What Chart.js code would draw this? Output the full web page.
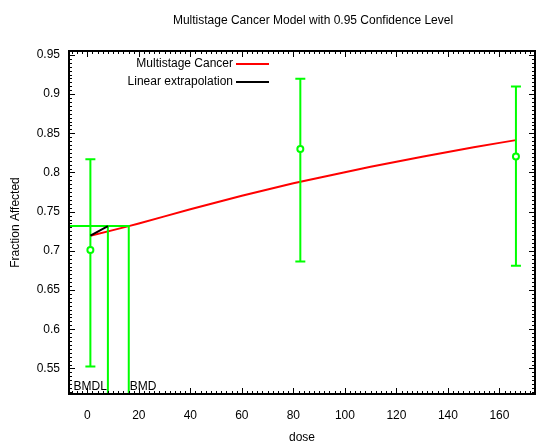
<!DOCTYPE html>
<html>
<head>
<meta charset="utf-8">
<script src="https://cdn.jsdelivr.net/npm/chart.js@4.4.0/dist/chart.umd.min.js"></script>
<style>
    html, body { margin: 0; padding: 0; background: #fff; }
    canvas { display: block; }
</style>
</head>
<body>
<canvas id="bmdChart" width="541" height="448"></canvas>
<script>
const FONT = '"Liberation Sans", Arial, sans-serif';
const TITLE = 'Multistage Cancer Model with 0.95 Confidence Level';

// observed dose groups with 95% limits
const doses = [1.2, 82.7, 166.4];
const fracAffected = [0.701, 0.830, 0.8204];
const ciLower = [0.5525, 0.6865, 0.681];
const ciUpper = [0.817, 0.9195, 0.9097];

// fitted multistage curve
const curveDose = [1.2, 10, 16.1, 20, 30, 40, 50, 60, 70, 80, 90, 100, 110, 120, 130, 140, 150, 160, 166.4];
const curveFrac = [0.7193, 0.7265, 0.7316, 0.7350, 0.7440, 0.7530, 0.7618, 0.7703, 0.7784, 0.7862,
                   0.7934, 0.8004, 0.8072, 0.8137, 0.8201, 0.8262, 0.8321, 0.8378, 0.8413];

// benchmark response / dose
const bmr = 0.7316;
const bmdl = 8.0;
const bmd = 16.1;

const xRange = [-7.1, 173.8];
const yRange = [0.5174, 0.955];
const xTicks = [0, 20, 40, 60, 80, 100, 120, 140, 160];
const yTicks = [0.55, 0.6, 0.65, 0.7, 0.75, 0.8, 0.85, 0.9, 0.95];

const GREEN = '#00ff00';

function pts(xs, ys) {
    return xs.map((x, i) => ({x: x, y: ys[i]}));
}

const errorBars = {
    id: 'errorBars',
    afterDatasetDraw(chart, args) {
        if (chart.data.datasets[args.index].label !== 'bmr') return;
        const {ctx, scales: {x, y}} = chart;
        ctx.save();
        ctx.strokeStyle = GREEN;
        ctx.lineWidth = 2;
        for (let i = 0; i < doses.length; i++) {
            const px = x.getPixelForValue(doses[i]);
            const lo = y.getPixelForValue(ciLower[i]);
            const hi = y.getPixelForValue(ciUpper[i]);
            ctx.beginPath();
            ctx.moveTo(px, lo); ctx.lineTo(px, hi);
            ctx.moveTo(px - 5, lo); ctx.lineTo(px + 5, lo);
            ctx.moveTo(px - 5, hi); ctx.lineTo(px + 5, hi);
            ctx.stroke();
        }
        ctx.restore();
    }
};

const frame = {
    id: 'frame',
    afterDraw(chart) {
        const {ctx, chartArea: a, scales: {x, y}} = chart;
        ctx.save();
        ctx.strokeStyle = '#000';
        ctx.lineWidth = 1;

        // minor ticks
        ctx.beginPath();
        for (let v = Math.ceil(xRange[0] / 2) * 2; v <= xRange[1]; v += 2) {
            const px = Math.round(x.getPixelForValue(v)) + 0.5;
            ctx.moveTo(px, a.bottom); ctx.lineTo(px, a.bottom - 3);
            ctx.moveTo(px, a.top); ctx.lineTo(px, a.top + 3);
        }
        for (let k = Math.ceil(yRange[0] / 0.005); k * 0.005 <= yRange[1]; k++) {
            const py = Math.round(y.getPixelForValue(k * 0.005)) + 0.5;
            ctx.moveTo(a.left, py); ctx.lineTo(a.left + 3, py);
            ctx.moveTo(a.right, py); ctx.lineTo(a.right - 3, py);
        }
        ctx.stroke();

        // major ticks
        ctx.beginPath();
        xTicks.forEach(v => {
            const px = Math.round(x.getPixelForValue(v)) + 0.5;
            ctx.moveTo(px, a.bottom); ctx.lineTo(px, a.bottom - 6);
            ctx.moveTo(px, a.top); ctx.lineTo(px, a.top + 6);
        });
        yTicks.forEach(v => {
            const py = Math.round(y.getPixelForValue(v)) + 0.5;
            ctx.moveTo(a.left, py); ctx.lineTo(a.left + 6, py);
            ctx.moveTo(a.right, py); ctx.lineTo(a.right - 6, py);
        });
        ctx.stroke();

        ctx.lineWidth = 2;
        ctx.strokeRect(a.left, a.top, a.right - a.left, a.bottom - a.top);

        // texts
        ctx.fillStyle = '#000';
        ctx.font = '12px ' + FONT;
        ctx.textBaseline = 'middle';
        ctx.textAlign = 'center';
        ctx.fillText(TITLE, 313, 21);
        ctx.fillText('dose', (a.left + a.right) / 2, 438);

        ctx.save();
        ctx.translate(16, (a.top + a.bottom) / 2);
        ctx.rotate(-Math.PI / 2);
        ctx.fillText('Fraction Affected', 0, 0);
        ctx.restore();

        ctx.textBaseline = 'alphabetic';
        ctx.textAlign = 'right';
        ctx.fillText('BMDL', x.getPixelForValue(bmdl) - 1, a.bottom - 4);
        ctx.textAlign = 'left';
        ctx.fillText('BMD', x.getPixelForValue(bmd) + 1, a.bottom - 4);

        // legend
        ctx.textBaseline = 'middle';
        ctx.textAlign = 'right';
        ctx.fillText('Multistage Cancer', 233, 64);
        ctx.fillText('Linear extrapolation', 233, 82);
        ctx.lineWidth = 2;
        ctx.strokeStyle = '#ff0000';
        ctx.beginPath(); ctx.moveTo(236, 64); ctx.lineTo(269, 64); ctx.stroke();
        ctx.strokeStyle = '#000';
        ctx.beginPath(); ctx.moveTo(236, 82); ctx.lineTo(269, 82); ctx.stroke();
        ctx.restore();
    }
};

const lineDefaults = {
    showLine: true,
    pointRadius: 0,
    borderWidth: 2,
    fill: false,
    tension: 0
};

new Chart(document.getElementById('bmdChart').getContext('2d'), {
    type: 'scatter',
    data: {
        datasets: [
            {
                label: 'data',
                order: 0,
                data: pts(doses, fracAffected),
                pointStyle: 'circle',
                pointRadius: 3,
                borderWidth: 2,
                borderColor: GREEN,
                backgroundColor: '#fff',
                showLine: false
            },
            Object.assign({}, lineDefaults, {
                label: 'Linear extrapolation',
                order: 1,
                data: [{x: curveDose[0], y: curveFrac[0]}, {x: bmdl, y: bmr}],
                borderColor: '#000'
            }),
            Object.assign({}, lineDefaults, {
                label: 'bmr',
                order: 2,
                data: [{x: xRange[0], y: bmr}, {x: bmd, y: bmr}, {x: bmd, y: yRange[0]}],
                borderColor: GREEN
            }),
            Object.assign({}, lineDefaults, {
                label: 'bmdl',
                order: 2,
                data: [{x: bmdl, y: bmr}, {x: bmdl, y: yRange[0]}],
                borderColor: GREEN
            }),
            Object.assign({}, lineDefaults, {
                label: 'Multistage Cancer',
                order: 3,
                data: pts(curveDose, curveFrac),
                borderColor: '#ff0000'
            })
        ]
    },
    options: {
        responsive: false,
        animation: false,
        layout: {padding: {left: 0, right: 1, top: 51, bottom: 0}},
        plugins: {
            legend: {display: false},
            tooltip: {enabled: false}
        },
        scales: {
            x: {
                type: 'linear',
                min: xRange[0],
                max: xRange[1],
                afterFit: s => { s.height = 54; },
                afterBuildTicks: s => { s.ticks = xTicks.map(v => ({value: v})); },
                grid: {display: false, drawTicks: false},
                border: {display: false},
                ticks: {
                    color: '#000',
                    padding: 14,
                    maxRotation: 0,
                    font: {family: FONT, size: 12},
                    callback: v => String(v)
                }
            },
            y: {
                type: 'linear',
                min: yRange[0],
                max: yRange[1],
                afterFit: s => { s.width = 69; },
                afterBuildTicks: s => { s.ticks = yTicks.map(v => ({value: v})); },
                grid: {display: false, drawTicks: false},
                border: {display: false},
                ticks: {
                    color: '#000',
                    padding: 9,
                    font: {family: FONT, size: 12},
                    callback: v => String(+v.toFixed(2))
                }
            }
        }
    },
    plugins: [errorBars, frame]
});
</script>
</body>
</html>
